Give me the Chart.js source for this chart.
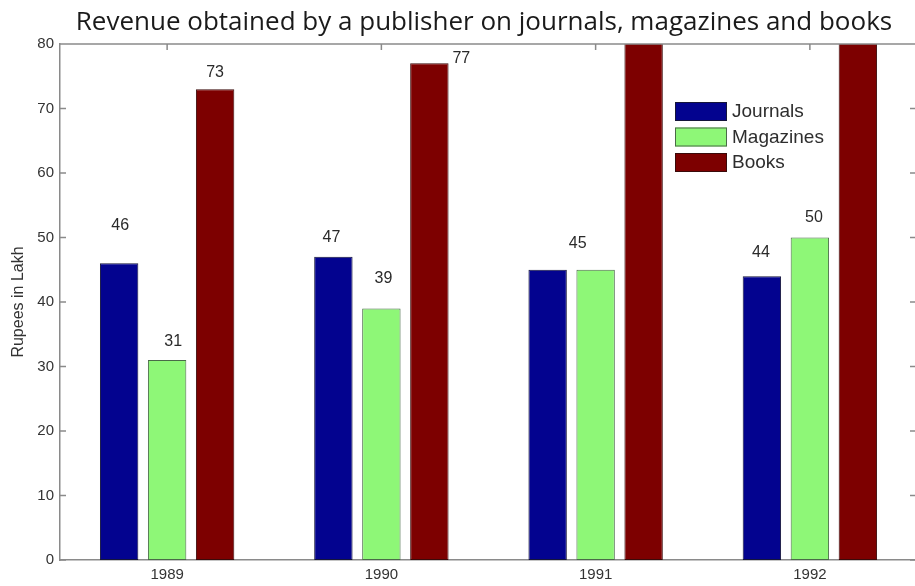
<!DOCTYPE html>
<html>
<head>
<meta charset="utf-8">
<script src="https://cdn.jsdelivr.net/npm/chart.js@4.4.1/dist/chart.umd.min.js"></script>
<style>
    html, body { margin: 0; padding: 0; background: #fff; overflow: hidden; }
    #wrap { width: 930px; height: 586px; }
</style>
</head>
<body>
<div id="wrap"><canvas id="myChart" width="930" height="586"></canvas></div>
<script>
//================================data========================================
const years = ['1989', '1990', '1991', '1992'];
const journals = [46, 47, 45, 44];
const magazines = [31, 39, 45, 50];
const books = [73, 77, 85, 88];   // 1991 and 1992 go past the top of the axis (estimated)
const seriesNames = ['Journals', 'Magazines', 'Books'];
const yMax = 80;
const yStep = 10;

const chartTitle = 'Revenue obtained by a publisher on journals, magazines and books';
const yTitle = 'Rupees in Lakh';

// where the value labels sit, px above the bar top / px right of the bar centre
const labelLift = [[38, 19, 26, 24], [18, 30, null, 20], [17, 5, null, null]];
const labelShift = [[1, -2, 30, -1], [6, 2, 0, 4], [0, 32, 0, 0]];

const colors = ['#03038f', '#8ef777', '#7d0000'];
const edges = ['#15153a', '#4a6a48', '#3a0a0a'];
const axisColor = '#8a8a8a';
const fontFam = '"Liberation Sans", Arial, sans-serif';

//================================plugins========================================
const titlePlugin = {
    id: 'pageTitle',
    afterDraw(chart) {
        const ctx = chart.ctx;
        ctx.save();
        ctx.font = '26px "Open Sans", sans-serif';
        ctx.fillStyle = '#1a1a1a';
        ctx.textAlign = 'center';
        ctx.textBaseline = 'alphabetic';
        ctx.fillText(chartTitle, 484, 30);
        ctx.restore();
    }
};

const framePlugin = {
    id: 'frame',
    afterDraw(chart) {
        const ctx = chart.ctx;
        const a = chart.chartArea;
        const x = chart.scales.x;
        const y = chart.scales.y;
        ctx.save();
        ctx.strokeStyle = axisColor;
        ctx.lineWidth = 1.5;
        ctx.beginPath();
        ctx.moveTo(a.left, a.top);
        ctx.lineTo(a.right, a.top);
        y.ticks.forEach((t) => {
            const py = y.getPixelForValue(t.value);
            ctx.moveTo(a.left, py);
            ctx.lineTo(a.left + 6, py);
            ctx.moveTo(a.right, py);
            ctx.lineTo(a.right - 7, py);
        });
        for (let i = 0; i < years.length; i++) {
            const px = x.getPixelForValue(i);
            ctx.moveTo(px, a.top);
            ctx.lineTo(px, a.top + 6);
        }
        ctx.stroke();
        ctx.restore();
    }
};

const valueLabels = {
    id: 'valueLabels',
    afterDatasetsDraw(chart) {
        const ctx = chart.ctx;
        ctx.save();
        ctx.font = '16px ' + fontFam;
        ctx.fillStyle = '#2a2a2a';
        ctx.textAlign = 'center';
        ctx.textBaseline = 'middle';
        chart.data.datasets.forEach((ds, di) => {
            const meta = chart.getDatasetMeta(di);
            meta.data.forEach((bar, i) => {
                const lift = labelLift[di][i];
                if (lift == null || ds.data[i] > yMax) return;
                ctx.fillText(String(ds.data[i]), bar.x + labelShift[di][i], bar.y - lift);
            });
        });
        ctx.restore();
    }
};

const boxLegend = {
    id: 'boxLegend',
    afterDraw(chart) {
        const ctx = chart.ctx;
        ctx.save();
        ctx.font = '19px ' + fontFam;
        ctx.textBaseline = 'middle';
        ctx.textAlign = 'left';
        chart.data.datasets.forEach((ds, i) => {
            const top = 102 + i * 25.5;
            ctx.fillStyle = colors[i];
            ctx.fillRect(675, top, 52, 19);
            ctx.strokeStyle = edges[i];
            ctx.lineWidth = 1;
            ctx.strokeRect(675.5, top + 0.5, 51, 18);
            ctx.fillStyle = '#2e2e2e';
            ctx.fillText(ds.label, 732, top + 10);
        });
        ctx.restore();
    }
};

//================================chart========================================
const ctx = document.getElementById('myChart');

const series = [journals, magazines, books];
const datasets = series.map((vals, i) => ({
    label: seriesNames[i],
    data: vals,
    backgroundColor: colors[i],
    borderColor: edges[i],
    borderWidth: 1,
    borderSkipped: false,
    categoryPercentage: 0.672,
    barPercentage: 0.8
}));

const chart = new Chart(ctx, {
    type: 'bar',
    data: {
        labels: years,
        datasets: datasets
    },
    options: {
        responsive: false,
        animation: false,
        devicePixelRatio: 1,
        layout: {
            padding: { top: 44, right: 13, bottom: 0, left: 0 }
        },
        plugins: {
            legend: { display: false },
            title: { display: false },
            tooltip: { enabled: false }
        },
        scales: {
            x: {
                type: 'category',
                offset: true,
                grid: { display: false, drawTicks: false },
                border: { display: true, color: axisColor, width: 1.5 },
                ticks: {
                    font: { family: fontFam, size: 15 },
                    color: '#333',
                    padding: 6,
                    maxRotation: 0
                },
                afterFit: (scale) => { scale.height = 26; }
            },
            y: {
                min: 0,
                max: yMax,
                grid: { display: false, drawTicks: false },
                border: { display: true, color: axisColor, width: 1.5 },
                ticks: {
                    stepSize: yStep,
                    font: { family: fontFam, size: 15 },
                    color: '#333',
                    padding: 6
                },
                title: {
                    display: true,
                    text: yTitle,
                    font: { family: fontFam, size: 16 },
                    color: '#333',
                    padding: { top: 9, bottom: 0 }
                },
                afterFit: (scale) => { scale.width = 60; }
            }
        }
    },
    plugins: [valueLabels, framePlugin, boxLegend, titlePlugin]
});
</script>
</body>
</html>
